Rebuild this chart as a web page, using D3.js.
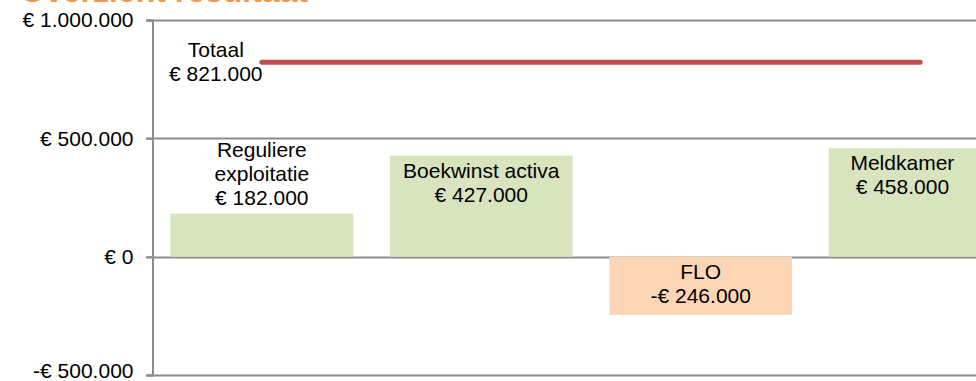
<!DOCTYPE html>
<html>
<head>
<meta charset="utf-8">
<script src="https://cdn.jsdelivr.net/npm/d3@7"></script>
<style>
  body { margin: 0; background: #fff; }
  text { font-family: "Liberation Sans", Arial, sans-serif; }
</style>
</head>
<body>
<div id="chart"></div>
<script>
// chart data
var categories = ["Reguliere exploitatie", "Boekwinst activa", "FLO", "Meldkamer"];
var labelLines = [["Reguliere", "exploitatie"], ["Boekwinst activa"], ["FLO"], ["Meldkamer"]];
var values = [182000, 427000, -246000, 458000];
var totalLabel = "Totaal";
var totalValue = 821000;
var yTicks = [-500000, 0, 500000, 1000000];
var titleText = "Overzicht resultaat";

var W = 976, H = 381;

// euro format, dutch style
function euro (v) {
  var s = Math.abs(v).toString().replace(/\B(?=(\d{3})+(?!\d))/g, ".");
  return (v < 0 ? "-" : "") + "€ " + s;
}

var svg = d3.select("#chart").append("svg")
    .attr("width", W)
    .attr("height", H);

// set the scales (plot area runs past the right edge, like the cropped original)
var x = d3.scaleBand().domain(categories).range([152, 1030]).paddingInner(0.167).paddingOuter(0.084);
var y = d3.scaleLinear().domain([-500000, 1000000]).range([375, 20]);

// title, mostly cut off at the top
svg.append("text")
    .attr("x", 20)
    .attr("y", 1.5)
    .style("font-size", "32px")
    .style("font-weight", "bold")
    .style("fill", "#F79646")
    .text(titleText);

// gridlines
svg.append("g").selectAll("line")
    .data(yTicks)
  .enter().append("line")
    .attr("x1", 146)
    .attr("x2", W)
    .attr("y1", function(d) { return Math.round(y(d)) + 0.5; })
    .attr("y2", function(d) { return Math.round(y(d)) + 0.5; })
    .style("stroke", "#8c8c8c")
    .style("stroke-width", 2);

// Add the Y Axis
var yAxis = svg.append("g")
    .attr("transform", "translate(152.5,0)")
    .call(d3.axisLeft(y).tickValues(yTicks).tickSize(6).tickFormat(euro));
yAxis.select(".domain").style("stroke", "#8c8c8c").style("stroke-width", 2);
yAxis.selectAll(".tick line").style("stroke", "#8c8c8c").style("stroke-width", 2);
yAxis.selectAll(".tick text")
    .attr("x", -19)
    // keep the lowest label inside the picture
    .attr("y", function(d) { return Math.min(0, H - 10 - y(d)); })
    .style("font-size", "21px")
    .style("font-family", "Liberation Sans, Arial, sans-serif")
    .style("fill", "#000");

// bars
svg.append("g").selectAll("rect")
    .data(values)
  .enter().append("rect")
    .attr("x", function(d, i) { return x(categories[i]); })
    .attr("width", x.bandwidth())
    .attr("y", function(d) { return y(Math.max(0, d)); })
    .attr("height", function(d) { return Math.abs(y(d) - y(0)); })
    .style("fill", function(d) { return d < 0 ? "#FCD5B5" : "#D7E4BD"; });

// total line, from first to last category centre
var cx = function(c) { return x(c) + x.bandwidth() / 2; };
svg.append("line")
    .attr("x1", cx(categories[0]))
    .attr("x2", cx(categories[categories.length - 1]))
    .attr("y1", y(totalValue))
    .attr("y2", y(totalValue))
    .style("stroke", "#C0504D")
    .style("stroke-width", 5)
    .style("stroke-linecap", "round");

var lh = 24;

// total label left of the line
var tl = svg.append("text")
    .attr("text-anchor", "middle")
    .style("font-size", "21px");
[totalLabel, euro(totalValue)].forEach(function(s, k) {
  tl.append("tspan")
    .attr("x", cx(categories[0]) - 46)
    .attr("y", y(totalValue) - 5 + k * lh)
    .text(s);
});

// bar labels
values.forEach(function(v, i) {
  var lines = labelLines[i].concat([euro(v)]);
  var left = x(categories[i]);
  var right = Math.min(left + x.bandwidth(), W);
  var mx = (left + right) / 2;
  var barTop = y(Math.max(0, v));
  var first;
  if (i == 0) {
    // does not fit: placed above the bar
    first = barTop - 9 - (lines.length - 1) * lh;
  } else {
    first = barTop + 22;
  }
  var t = svg.append("text")
      .attr("text-anchor", "middle")
      .style("font-size", "21px");
  lines.forEach(function(s, k) {
    t.append("tspan")
      .attr("x", mx)
      .attr("y", first + k * lh)
      .text(s);
  });
});
</script>
</body>
</html>
